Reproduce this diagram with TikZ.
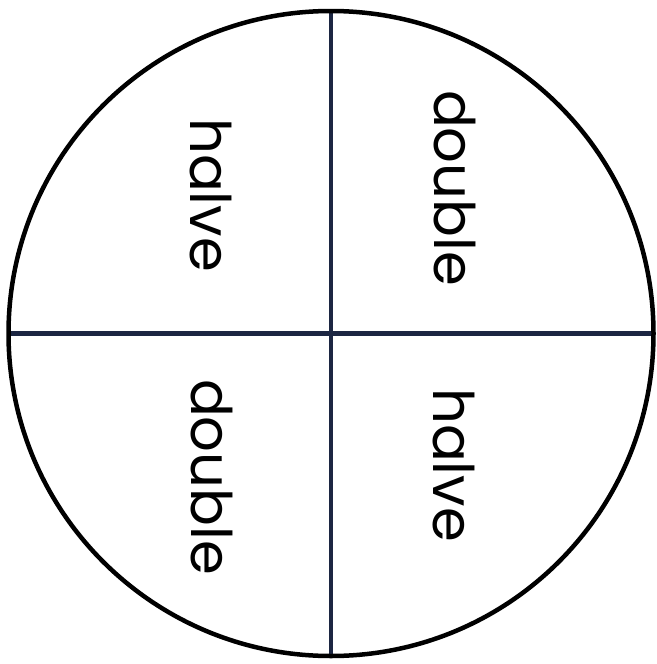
\documentclass[tikz,border=0pt]{standalone}
\usepackage{fontspec}
\setmainfont{Poppins}
\definecolor{navy}{HTML}{1C2642}
\begin{document}
\begin{tikzpicture}[x=1pt,y=-1pt,
  rim/.style={draw=black,line width=4.5pt},
  divider/.style={draw=navy,line width=4.5pt},
  word/.style={font=\fontsize{56}{60}\selectfont,rotate=-90,inner sep=0pt,anchor=center}]
\useasboundingbox (0,0) rectangle (656,664);
\coordinate (c) at (331,333.5);
\coordinate (t) at (331,11);
\coordinate (b) at (331,656);
\coordinate (l) at (8.5,333.5);
\coordinate (r) at (653.5,333.5);
\draw[divider] (t) -- (b);
\draw[divider] (l) -- (r);
\draw[rim] (c) circle[radius=322.5];
\node[word] (ul) at (211,195) {halve};
\node[word] (ur) at (455,188) {double};
\node[word] (ll) at (212,477) {double};
\node[word] (lr) at (454,465) {halve};
\end{tikzpicture}
\end{document}
